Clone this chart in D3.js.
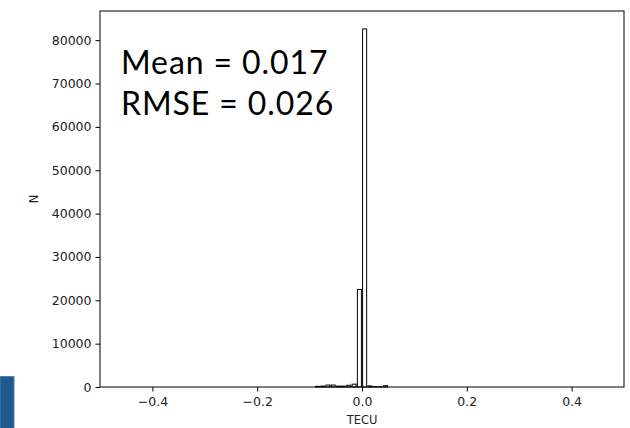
<!DOCTYPE html>
<html>
<head>
<meta charset="utf-8">
<script src="https://cdn.jsdelivr.net/npm/d3@7"></script>
<style>
  html, body { margin: 0; padding: 0; background: #fff; }
  svg { display: block; }
</style>
</head>
<body>
<svg id="chart" width="630" height="428"></svg>
<script>
// Histogram of TEC differences: bin left edges (TECU) and counts per bin
const binStarts = [-0.09, -0.08, -0.07, -0.06, -0.05, -0.04, -0.03, -0.02, -0.01, 0.00, 0.01, 0.02, 0.03, 0.04];
const binCounts = [150, 200, 450, 450, 200, 200, 400, 650, 22500, 82600, 250, 100, 50, 300];
const binWidth = 0.01;

const xTicks = [-0.4, -0.2, 0.0, 0.2, 0.4];
const yTicks = [0, 10000, 20000, 30000, 40000, 50000, 60000, 70000, 80000];

const statLines = ["Mean = 0.017", "RMSE = 0.026"];

const svg = d3.select("#chart");
const plot = { left: 100, right: 624, top: 11, bottom: 387 };

const x = d3.scaleLinear().domain([-0.5, 0.5]).range([plot.left, plot.right]);
const yMax = d3.max(binCounts) * 1.05;
const y = d3.scaleLinear().domain([0, yMax]).range([plot.bottom, plot.top]);

// small blue block at lower left
svg.append("rect")
  .attr("x", 0).attr("y", 376.5)
  .attr("width", 14).attr("height", 60)
  .attr("fill", "#1f5a8e")
  .attr("stroke", "#4a80b8").attr("stroke-width", 1);

// bars
const bins = binStarts.map((s, i) => ({ x0: s, x1: s + binWidth, n: binCounts[i] }));
svg.append("g")
  .selectAll("rect")
  .data(bins)
  .join("rect")
  .attr("x", d => x(d.x0) + 0.6)
  .attr("width", d => x(d.x1) - x(d.x0) - 1.2)
  .attr("y", d => y(d.n))
  .attr("height", d => y(0) - y(d.n))
  .attr("fill", "#fff")
  .attr("stroke", "#000")
  .attr("stroke-width", 1);

// axes
const tickFont = "DejaVu Sans, sans-serif";
const tickSize = 12.5;
const xAxis = svg.append("g")
  .attr("transform", `translate(0,${plot.bottom})`)
  .call(d3.axisBottom(x).tickValues(xTicks).tickFormat(d3.format(".1f")).tickSizeOuter(0).tickSize(4.5).tickPadding(6));
const yAxis = svg.append("g")
  .attr("transform", `translate(${plot.left},0)`)
  .call(d3.axisLeft(y).tickValues(yTicks).tickFormat(d3.format("d")).tickSizeOuter(0).tickSize(4.5).tickPadding(4));

[xAxis, yAxis].forEach(g => {
  g.select(".domain").remove();
  g.selectAll("text").attr("font-family", tickFont).attr("font-size", tickSize).attr("fill", "#222");
  g.selectAll("line").attr("stroke", "#000").attr("stroke-width", 1);
});

// frame
svg.append("rect")
  .attr("x", plot.left).attr("y", plot.top)
  .attr("width", plot.right - plot.left).attr("height", plot.bottom - plot.top)
  .attr("fill", "none").attr("stroke", "#000").attr("stroke-width", 1);

// axis labels
svg.append("text")
  .attr("x", (plot.left + plot.right) / 2).attr("y", 424)
  .attr("text-anchor", "middle")
  .attr("font-family", tickFont).attr("font-size", 11.5).attr("fill", "#222")
  .text("TECU");
svg.append("text")
  .attr("transform", `translate(38,${(plot.top + plot.bottom) / 2}) rotate(-90)`)
  .attr("text-anchor", "middle")
  .attr("font-family", tickFont).attr("font-size", 11.5).attr("fill", "#222")
  .text("N");

// statistics annotation
svg.append("g")
  .selectAll("text")
  .data(statLines)
  .join("text")
  .attr("x", 121)
  .attr("y", (d, i) => 74 + i * 41)
  .attr("font-family", "Lato, 'Open Sans', sans-serif")
  .attr("font-size", 32)
  .attr("letter-spacing", 0.9)
  .attr("fill", "#000")
  .text(d => d);
</script>
</body>
</html>
